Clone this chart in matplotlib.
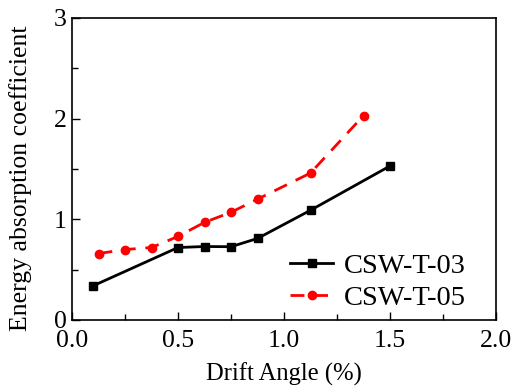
import matplotlib
matplotlib.use('Agg')
import matplotlib.pyplot as plt
from matplotlib.ticker import MultipleLocator

# data
drift_03 = [0.1, 0.5, 0.625, 0.75, 0.875, 1.125, 1.5]
coef_03 = [0.34, 0.72, 0.73, 0.728, 0.81, 1.09, 1.53]
drift_05 = [0.125, 0.25, 0.375, 0.5, 0.625, 0.75, 0.875, 1.125, 1.375]
coef_05 = [0.66, 0.70, 0.72, 0.83, 0.97, 1.07, 1.20, 1.46, 2.03]
labels = ['CSW-T-03', 'CSW-T-05']

plt.rcParams['font.family'] = ['Liberation Serif', 'DejaVu Serif']

fig = plt.figure(figsize=(5.13, 3.87), dpi=100)
ax = fig.add_axes([72 / 513, 1 - 320 / 387, 424 / 513, 302 / 387])

ax.plot(drift_03, coef_03, 'k-', marker='s', markersize=5.5, linewidth=2, label=labels[0])
ax.plot(drift_05, coef_05, color='red', linestyle=(0, (5, 3.5)), marker='o', markersize=6,
        linewidth=2, label=labels[1])

ax.set_xlim(0, 2)
ax.set_ylim(0, 3)
ax.set_xticks([0, 0.5, 1.0, 1.5, 2.0])
ax.set_xticklabels(['0.0', '0.5', '1.0', '1.5', '2.0'])
ax.xaxis.set_minor_locator(MultipleLocator(0.25))
ax.yaxis.set_major_locator(MultipleLocator(1))
ax.yaxis.set_minor_locator(MultipleLocator(0.5))
ax.tick_params(which='both', direction='in', top=False, right=False, labelsize=18.5)
ax.tick_params(which='major', length=6, width=1)
ax.tick_params(which='minor', length=4, width=1)
ax.tick_params(axis='x', pad=7)
ax.tick_params(axis='y', pad=4)
for s in ax.spines.values():
    s.set_linewidth(1.2)

ax.set_xlabel('Drift Angle (%)', fontsize=17.7, labelpad=8)
ax.set_ylabel('Energy absorption coefficient', fontsize=18.5)
ax.yaxis.set_label_coords(-0.095, 0.47)

ax.legend(loc='lower right', bbox_to_anchor=(0.93, 0.03), frameon=False, fontsize=20.5,
          handlelength=1.5, borderaxespad=0, borderpad=0, labelspacing=0.2,
          handletextpad=0.4)

plt.savefig('out.png', dpi=100)
plt.close()
